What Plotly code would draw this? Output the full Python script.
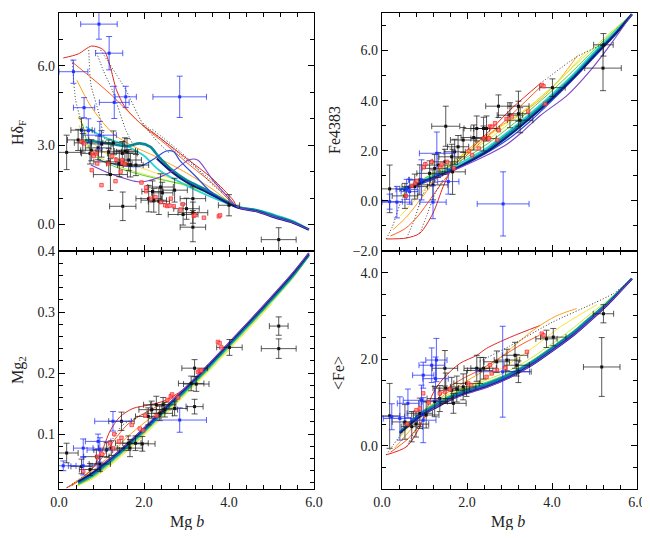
import plotly.graph_objects as go

# ---------------- model tracks (colour order: red ... purple) ----------------
# Panel 1: Hdelta_F vs Mg b
HD_TRACK_X = [
    [0.1, 0.45, 0.77, 1.05, 1.2, 1.35, 1.55, 1.9, 2.4, 3.0, 3.6, 4.1, 4.2, 4.64, 5.11, 5.5, 5.88],
    [0.3, 0.8, 1.2, 1.55, 2.0, 2.5, 3.0, 3.66, 4.2, 4.64, 5.11, 5.5, 5.88],
    [0.42, 0.7, 0.96, 1.3, 1.7, 2.3, 3.0, 3.6, 4.2, 4.64, 5.11, 5.5, 5.88],
    [0.45, 0.7, 1.0, 1.5, 2.1, 2.8, 3.5, 4.2, 4.64, 5.11, 5.5, 5.88],
    [0.48, 0.65, 0.9, 1.4, 2.0, 2.7, 3.4, 4.2, 4.64, 5.11, 5.5, 5.88],
    [0.55, 0.78, 1.33, 1.96, 2.66, 3.05, 3.6, 4.2, 4.64, 5.11, 5.5, 5.88],
    [0.63, 1.0, 1.56, 2.0, 2.35, 2.97, 3.5, 4.2, 4.64, 5.11, 5.5, 5.88],
    [0.61, 1.17, 1.59, 1.9, 2.15, 2.35, 2.66, 3.0, 3.48, 4.2, 4.64, 5.11, 5.5, 5.88],
    [0.9, 1.4, 1.9, 2.2, 2.53, 2.7, 2.84, 3.23, 3.62, 4.2, 4.64, 5.11, 5.5, 5.88],
    [2.3, 2.66, 3.0, 3.48, 4.2, 4.64, 5.11, 5.5, 5.88],
    [0.75, 1.2, 1.9, 2.3, 2.7, 3.08, 3.27, 3.62, 4.01, 4.2, 4.64, 5.11, 5.5, 5.88],
]
HD_TRACK_Y = [
    [6.3, 6.45, 6.75, 6.6, 6.0, 5.1, 4.45, 3.85, 3.25, 2.5, 1.75, 0.92, 0.66, 0.52, 0.28, 0.1, -0.19],
    [6.16, 5.5, 4.95, 4.4, 3.7, 3.05, 2.35, 1.49, 0.66, 0.52, 0.28, 0.1, -0.19],
    [5.46, 4.6, 4.0, 3.4, 3.0, 2.55, 1.95, 1.35, 0.66, 0.53, 0.29, 0.1, -0.19],
    [4.1, 3.3, 2.8, 2.4, 2.05, 1.65, 1.2, 0.66, 0.53, 0.3, 0.11, -0.19],
    [3.75, 3.0, 2.6, 2.2, 1.9, 1.6, 1.25, 0.66, 0.54, 0.31, 0.12, -0.19],
    [3.83, 2.69, 2.18, 1.87, 1.61, 1.49, 1.15, 0.66, 0.55, 0.33, 0.13, -0.19],
    [3.7, 3.35, 3.0, 2.6, 2.06, 1.5, 1.1, 0.66, 0.56, 0.35, 0.14, -0.19],
    [3.19, 3.07, 2.96, 3.07, 2.94, 2.56, 2.06, 1.68, 1.3, 0.66, 0.54, 0.3, 0.1, -0.19],
    [2.45, 2.25, 2.2, 2.45, 2.78, 2.75, 2.43, 1.8, 1.17, 0.66, 0.52, 0.27, 0.08, -0.19],
    [2.5, 1.98, 1.6, 1.22, 0.64, 0.5, 0.25, 0.07, -0.19],
    [2.25, 1.93, 1.61, 1.75, 2.05, 2.46, 2.43, 1.68, 0.98, 0.66, 0.5, 0.26, 0.08, -0.19],
]
HD_DOT_X = [
    [0.31, 0.39, 0.51, 0.6],
    [0.7, 0.75, 0.94, 1.02, 1.1],
    [0.86, 1.05, 1.25, 1.57, 1.75],
    [0.98, 1.57, 1.96, 2.35, 2.6],
    [1.98, 2.8, 3.78],
    [2.2, 3.0, 3.62, 3.85],
]
HD_DOT_Y = [
    [6.23, 4.72, 3.96, 3.5],
    [6.6, 5.3, 4.2, 3.58, 3.1],
    [6.6, 5.8, 5.1, 3.58, 3.0],
    [6.6, 5.1, 3.84, 3.08, 2.7],
    [3.83, 2.7, 1.42],
    [3.6, 2.55, 1.49, 1.2],
]

# Panel 2: Fe4383 vs Mg b
FE43_TRACK_X = [
    [0.1, 0.58, 0.89, 1.2, 1.44, 1.67, 2.15, 2.62, 3.09, 3.72],
    [0.2, 0.55, 0.85, 1.15, 1.45, 1.8, 2.3, 2.8, 3.3, 3.7],
    [0.26, 0.6, 0.9, 1.2, 1.67, 2.2, 2.8, 3.33, 3.72, 4.2, 4.6],
    [0.42, 0.7, 0.9, 1.3, 1.8, 2.4, 3.0, 3.6, 4.2, 4.82],
    [0.45, 1.0, 1.6, 2.0, 2.5, 3.0, 3.5, 4.0, 4.5, 5.0, 5.5, 5.88],
    [0.5, 1.0, 1.6, 2.0, 2.5, 3.0, 3.5, 4.0, 4.5, 5.0, 5.5, 5.88],
    [0.45, 1.0, 1.6, 2.0, 2.5, 3.0, 3.5, 4.0, 4.5, 5.0, 5.5, 5.88],
    [0.42, 1.0, 1.6, 2.0, 2.5, 3.0, 3.5, 4.0, 4.5, 5.0, 5.5, 5.88],
    [0.8, 1.4, 2.0, 2.5, 3.0, 3.5, 4.0, 4.5, 5.0, 5.5, 5.88],
    [0.5, 1.0, 1.6, 2.0, 2.5, 3.0, 3.5, 4.0, 4.5, 5.0, 5.5, 5.88],
    [1.0, 1.6, 2.0, 2.5, 2.93, 3.3, 3.72, 4.35, 4.9, 5.4, 5.88],
]
FE43_TRACK_Y = [
    [-1.52, -1.48, -1.29, -0.49, 0.57, 1.36, 2.16, 2.95, 3.75, 4.68],
    [-1.4, -1.1, -0.6, 0.1, 0.8, 1.5, 2.3, 3.05, 3.85, 4.5],
    [-1.15, -0.6, 0.05, 0.7, 1.5, 2.3, 3.0, 3.55, 4.05, 4.9, 5.8],
    [-0.62, -0.1, 0.3, 0.95, 1.7, 2.45, 3.2, 3.95, 4.85, 6.0],
    [0.2, 0.9, 1.5, 1.9, 2.45, 3.1, 3.8, 4.55, 5.35, 6.15, 6.9, 7.45],
    [0.4, 0.9, 1.4, 1.75, 2.3, 2.95, 3.65, 4.4, 5.2, 6.05, 6.85, 7.45],
    [0.45, 0.85, 1.3, 1.65, 2.15, 2.8, 3.5, 4.25, 5.05, 5.95, 6.78, 7.45],
    [0.44, 0.8, 1.2, 1.55, 2.05, 2.7, 3.4, 4.15, 4.95, 5.85, 6.7, 7.45],
    [0.6, 1.0, 1.5, 1.95, 2.5, 3.2, 4.0, 4.85, 5.75, 6.65, 7.45],
    [0.42, 0.78, 1.18, 1.52, 2.0, 2.62, 3.32, 4.08, 4.9, 5.8, 6.68, 7.45],
    [0.75, 1.15, 1.45, 1.85, 2.25, 2.75, 3.4, 4.2, 5.2, 6.3, 7.45],
]
FE43_DOT_X = [
    [0.1, 0.25, 0.46, 0.6],
    [0.58, 0.75, 0.95, 1.1],
    [0.89, 1.05, 1.25, 1.45],
    [3.72, 4.58, 5.29, 5.6, 5.88],
]
FE43_DOT_Y = [
    [-1.52, -1.0, 0.04, 0.4],
    [-1.48, -0.8, 0.2, 0.7],
    [-1.29, -0.6, 0.3, 0.9],
    [4.68, 5.75, 6.35, 6.81, 7.45],
]

# Panel 3: Mg2 vs Mg b
MG2_TRACK_X = [
    [0.18, 0.5, 0.8, 1.0, 1.2, 1.43, 1.74, 2.14, 2.5, 2.9, 3.3, 3.7],
    [0.3, 0.7, 1.0, 1.3, 1.6, 1.9, 2.3, 2.7, 3.2, 3.7],
    [0.3, 0.7, 1.2, 1.6, 2.0, 2.5, 3.0, 3.5, 4.0, 4.6],
    [0.4, 0.8, 1.2, 1.6, 2.0, 2.5, 3.0, 3.5, 4.0, 4.5, 5.0],
    [0.42, 0.8, 1.2, 1.6, 2.0, 2.5, 3.0, 3.5, 4.0, 4.5, 5.0, 5.5, 5.88],
    [0.45, 0.8, 1.2, 1.6, 2.0, 2.5, 3.0, 3.5, 4.0, 4.5, 5.0, 5.5, 5.88],
    [0.45, 0.8, 1.2, 1.6, 2.0, 2.5, 3.0, 3.5, 4.0, 4.5, 5.0, 5.5, 5.88],
    [0.45, 0.8, 1.2, 1.6, 2.0, 2.5, 3.0, 3.5, 4.0, 4.5, 5.0, 5.5, 5.88],
    [0.5, 0.8, 1.2, 1.6, 2.0, 2.5, 3.0, 3.5, 4.0, 4.5, 5.0, 5.5, 5.88],
    [0.45, 0.8, 1.2, 1.6, 2.0, 2.5, 3.0, 3.5, 4.0, 4.5, 5.0, 5.5, 5.88],
    [0.9, 1.2, 1.6, 2.0, 2.5, 3.0, 3.5, 4.0, 4.5, 5.0, 5.5, 5.88],
]
MG2_TRACK_Y = [
    [0.012, 0.025, 0.045, 0.07, 0.105, 0.128, 0.142, 0.148, 0.155, 0.172, 0.198, 0.226],
    [0.015, 0.038, 0.06, 0.09, 0.115, 0.13, 0.145, 0.16, 0.19, 0.226],
    [0.018, 0.035, 0.065, 0.095, 0.118, 0.145, 0.176, 0.21, 0.245, 0.29],
    [0.014, 0.027, 0.048, 0.072, 0.098, 0.132, 0.166, 0.201, 0.238, 0.275, 0.313],
    [0.016, 0.029, 0.05, 0.074, 0.1, 0.134, 0.168, 0.203, 0.24, 0.277, 0.315, 0.355, 0.391],
    [0.017, 0.03, 0.052, 0.076, 0.102, 0.136, 0.17, 0.205, 0.242, 0.279, 0.317, 0.357, 0.392],
    [0.019, 0.032, 0.054, 0.078, 0.104, 0.138, 0.172, 0.207, 0.244, 0.281, 0.319, 0.358, 0.393],
    [0.02, 0.034, 0.056, 0.08, 0.106, 0.14, 0.174, 0.209, 0.246, 0.283, 0.321, 0.36, 0.394],
    [0.024, 0.036, 0.058, 0.082, 0.108, 0.142, 0.176, 0.211, 0.248, 0.285, 0.323, 0.362, 0.395],
    [0.022, 0.037, 0.059, 0.083, 0.109, 0.143, 0.177, 0.212, 0.249, 0.286, 0.324, 0.363, 0.396],
    [0.045, 0.06, 0.084, 0.11, 0.144, 0.178, 0.213, 0.25, 0.287, 0.325, 0.364, 0.397],
]
MG2_DOT_X = [
    [0.9, 1.2, 1.5, 1.9, 2.3],
    [0.18, 0.35, 0.55],
    [3.7, 4.3, 5.0, 5.88],
]
MG2_DOT_Y = [
    [0.05, 0.085, 0.115, 0.13, 0.142],
    [0.012, 0.02, 0.03],
    [0.226, 0.27, 0.322, 0.395],
]

# Panel 4: <Fe> vs Mg b
FE_TRACK_X = [
    [0.1, 0.58, 0.89, 1.2, 1.44, 1.83, 2.23, 2.46, 3.0, 3.72],
    [0.2, 0.6, 0.9, 1.2, 1.5, 1.9, 2.3, 2.8, 3.3, 3.7],
    [0.3, 0.7, 1.1, 1.5, 2.0, 2.5, 3.05, 3.6, 4.1, 4.58],
    [0.38, 0.8, 1.3, 1.8, 2.4, 3.0, 3.6, 4.2, 5.06],
    [0.4, 0.89, 1.3, 1.67, 2.0, 2.46, 3.0, 3.5, 4.03, 4.5, 4.82, 5.3, 5.88],
    [0.42, 0.89, 1.3, 1.67, 2.0, 2.46, 3.0, 3.5, 4.03, 4.5, 4.82, 5.3, 5.88],
    [0.42, 0.89, 1.3, 1.67, 2.0, 2.46, 3.0, 3.5, 4.03, 4.5, 4.82, 5.3, 5.88],
    [0.42, 0.89, 1.3, 1.67, 2.0, 2.46, 3.0, 3.5, 4.03, 4.5, 4.82, 5.3, 5.88],
    [0.5, 0.89, 1.3, 1.67, 2.0, 2.46, 3.0, 3.5, 4.03, 4.5, 4.82, 5.3, 5.88],
    [0.42, 0.89, 1.3, 1.67, 2.0, 2.46, 3.0, 3.5, 4.03, 4.5, 4.82, 5.3, 5.88],
    [1.0, 1.5, 2.0, 2.5, 3.0, 3.5, 4.0, 4.5, 5.0, 5.5, 5.88],
]
FE_TRACK_Y = [
    [-0.21, -0.02, 0.44, 1.21, 1.55, 1.9, 2.09, 2.25, 2.5, 2.78],
    [-0.15, 0.15, 0.5, 0.95, 1.3, 1.55, 1.75, 2.05, 2.35, 2.55],
    [-0.05, 0.4, 0.85, 1.2, 1.5, 1.8, 2.26, 2.7, 3.0, 3.17],
    [0.15, 0.6, 0.98, 1.27, 1.55, 1.9, 2.3, 2.75, 3.26],
    [0.22, 0.75, 1.04, 1.24, 1.37, 1.52, 1.74, 2.02, 2.38, 2.72, 2.98, 3.35, 3.86],
    [0.28, 0.76, 1.01, 1.2, 1.33, 1.47, 1.68, 1.95, 2.31, 2.65, 2.92, 3.32, 3.86],
    [0.3, 0.74, 0.98, 1.17, 1.3, 1.44, 1.66, 1.93, 2.29, 2.63, 2.9, 3.3, 3.86],
    [0.31, 0.72, 0.96, 1.15, 1.28, 1.42, 1.64, 1.91, 2.27, 2.61, 2.88, 3.29, 3.86],
    [0.36, 0.7, 0.93, 1.12, 1.25, 1.39, 1.61, 1.88, 2.24, 2.58, 2.85, 3.27, 3.86],
    [0.29, 0.67, 0.9, 1.09, 1.22, 1.36, 1.58, 1.85, 2.21, 2.55, 2.82, 3.25, 3.86],
    [0.72, 1.02, 1.2, 1.36, 1.57, 1.85, 2.19, 2.55, 2.98, 3.45, 3.86],
]
FE_DOT_X = [
    [0.1, 0.4, 0.7],
    [0.58, 0.9, 1.2],
    [2.3, 3.0, 4.0, 5.0, 5.45, 5.88],
]
FE_DOT_Y = [
    [-0.21, 0.2, 0.55],
    [-0.02, 0.55, 0.9],
    [1.95, 2.3, 2.85, 3.3, 3.52, 3.86],
]

# ---------------- observations ----------------
HD_BLK_X = [0.18, 0.45, 0.53, 0.56, 0.73, 0.76, 0.92, 1.0, 1.17, 1.17, 1.21, 1.28, 1.42, 1.49, 1.55, 1.6, 1.64, 1.68, 1.81,
            1.5, 2.11, 2.2, 2.23, 2.35, 2.39, 2.43, 2.72, 2.92, 3.0, 3.15, 3.15, 3.15, 4.0, 5.17]
HD_BLK_Y = [2.73, 3.2, 3.57, 3.09, 2.69, 2.81, 2.9, 3.05, 2.75, 2.37, 1.89, 3.09, 2.31, 2.69, 2.78, 2.75, 2.44, 2.25, 2.25,
            0.69, 0.98, 1.25, 0.92, 0.88, 1.42, 1.2, 1.3, 0.38, 0.6, 0.98, 0.45, -0.1, 0.73, -0.57]
HD_BLK_XE = [0.33, 0.25, 0.25, 0.2, 0.2, 0.25, 0.3, 0.25, 0.3, 0.35, 0.4, 0.25, 0.3, 0.35, 0.25, 0.25, 0.3, 0.3, 0.3,
             0.31, 0.3, 0.25, 0.3, 0.25, 0.3, 0.25, 0.3, 0.35, 0.3, 0.3, 0.35, 0.3, 0.25, 0.41]
HD_BLK_YE = [0.65, 0.4, 0.45, 0.35, 0.4, 0.4, 0.45, 0.5, 0.45, 0.5, 0.6, 0.45, 0.5, 0.45, 0.5, 0.5, 0.4, 0.45, 0.4,
             0.54, 0.5, 0.4, 0.45, 0.5, 0.5, 0.4, 0.45, 0.4, 0.4, 0.45, 0.4, 0.55, 0.4, 0.45]
HD_BLU_X = [0.94, 1.18, 0.34, 0.59, 1.3, 1.57, 2.84, 0.96, 0.69]
HD_BLU_Y = [7.58, 6.48, 5.78, 4.42, 4.62, 4.83, 4.83, 3.38, 3.55]
HD_BLU_XE = [0.43, 0.32, 0.34, 0.25, 0.35, 0.25, 0.63, 0.39, 0.15]
HD_BLU_YE = [0.57, 0.63, 0.44, 0.38, 0.61, 0.4, 0.78, 0.52, 0.45]
HD_RED_X = [0.53, 0.59, 0.78, 0.82, 0.88, 0.9, 0.77, 1.0, 1.16, 1.25, 1.35, 1.49, 1.49, 1.55, 1.33, 1.45, 2.05, 2.05,
            2.27, 2.4, 2.5, 2.55, 2.6, 2.63, 2.7, 2.86, 2.91, 3.17, 3.2, 3.41, 3.76, 3.79, 1.94, 2.16]
HD_RED_Y = [3.13, 3.07, 2.69, 2.59, 2.69, 2.31, 2.06, 1.49, 2.31, 2.59, 2.45, 2.44, 2.33, 2.28, 1.64, 2.0, 1.4, 1.26,
            1.04, 0.85, 0.73, 0.7, 0.72, 0.98, 0.69, 0.57, 0.77, 0.33, 0.36, 0.26, 0.31, 0.35, 1.59, 0.98]

FE43_BLK_X = [0.18, 0.54, 0.77, 0.89, 1.12, 1.2, 1.24, 1.32, 1.48, 1.5, 1.64, 1.66, 1.71, 1.79, 1.91, 2.16, 2.23, 2.39,
              2.39, 2.46, 2.74, 3.01, 3.21, 3.21, 3.25, 4.01, 5.21, 5.2]
FE43_BLK_Y = [0.48, 0.2, 0.57, 0.84, 1.1, 0.64, 1.3, 1.43, 1.56, 2.98, 1.76, 1.16, 1.96, 2.16, 2.43, 2.53, 2.89, 2.89,
              2.49, 2.89, 3.78, 3.42, 3.78, 3.48, 3.22, 4.52, 6.23, 5.3]
FE43_BLK_XE = [0.24, 0.3, 0.3, 0.25, 0.3, 0.35, 0.3, 0.3, 0.3, 0.33, 0.3, 0.3, 0.25, 0.25, 0.3, 0.3, 0.3, 0.3,
               0.3, 0.3, 0.3, 0.3, 0.25, 0.25, 0.3, 0.3, 0.23, 0.43]
FE43_BLK_YE = [0.95, 0.5, 0.5, 0.6, 0.5, 0.6, 0.55, 0.5, 0.5, 0.8, 0.5, 0.9, 0.5, 0.45, 0.5, 0.5, 0.5, 0.45,
               0.5, 0.5, 0.45, 0.5, 0.6, 0.5, 0.5, 0.35, 0.45, 0.9]
FE43_BLU_X = [2.85, 0.18, 0.35, 0.58, 0.65, 0.93, 1.29, 1.2, 1.56]
FE43_BLU_Y = [-0.12, -0.03, -0.05, 0.46, 0.37, 0.84, 1.9, -0.05, 0.77]
FE43_BLU_XE = [0.61, 0.3, 0.35, 0.25, 0.2, 0.3, 0.41, 0.31, 0.25]
FE43_BLU_YE = [1.28, 0.3, 0.63, 0.4, 0.5, 0.8, 0.85, 0.66, 0.5]
FE43_RED_X = [0.56, 0.78, 0.82, 0.98, 1.02, 1.17, 1.37, 1.53, 1.69, 2.04, 2.12, 2.28, 2.39, 2.5, 2.52, 2.54, 2.59,
              2.66, 2.71, 2.75, 2.93, 3.05, 3.44, 3.76, 3.8, 3.84, 1.4, 0.7]
FE43_RED_Y = [0.2, 0.7, 0.8, 1.34, 1.47, 1.56, 1.36, 1.56, 1.3, 1.99, 1.83, 2.09, 2.49, 2.5, 2.49, 2.97, 2.96,
              3.1, 2.43, 2.82, 3.27, 3.37, 3.57, 4.63, 4.58, 3.87, 1.45, 0.6]

MG2_BLK_X = [0.18, 0.53, 0.73, 0.88, 0.96, 1.12, 1.23, 1.47, 1.63, 1.67, 1.8, 1.96, 2.1, 2.18, 2.29, 2.37, 2.45, 2.49,
             2.72, 3.19, 3.11, 3.23, 3.19, 4.01, 5.17, 5.17]
MG2_BLK_Y = [0.069, 0.047, 0.042, 0.063, 0.051, 0.074, 0.077, 0.121, 0.085, 0.077, 0.085, 0.084, 0.129, 0.14, 0.148,
             0.134, 0.148, 0.14, 0.142, 0.208, 0.183, 0.182, 0.145, 0.242, 0.277, 0.24]
MG2_BLK_XE = [0.27, 0.25, 0.25, 0.3, 0.25, 0.3, 0.3, 0.3, 0.3, 0.3, 0.3, 0.3, 0.3, 0.3, 0.3, 0.3, 0.3, 0.3,
              0.3, 0.3, 0.3, 0.3, 0.2, 0.3, 0.22, 0.41]
MG2_BLK_YE = [0.016, 0.012, 0.01, 0.012, 0.012, 0.012, 0.012, 0.015, 0.012, 0.014, 0.012, 0.012, 0.014, 0.014, 0.014,
              0.012, 0.012, 0.012, 0.012, 0.014, 0.012, 0.012, 0.012, 0.013, 0.015, 0.016]
MG2_BLU_X = [2.84, 1.27, 0.57, 0.1, 0.57, 0.92, 0.96]
MG2_BLU_Y = [0.123, 0.121, 0.077, 0.048, 0.048, 0.088, 0.074]
MG2_BLU_XE = [0.63, 0.43, 0.23, 0.3, 0.35, 0.3, 0.3]
MG2_BLU_YE = [0.02, 0.016, 0.015, 0.008, 0.015, 0.012, 0.02]
MG2_RED_X = [0.57, 0.9, 1.0, 1.27, 1.41, 1.47, 1.71, 1.9, 1.98, 2.03, 2.3, 2.55, 2.63, 2.66, 2.8, 3.27, 3.31, 3.35,
             3.74, 3.78, 3.82, 1.3, 1.2]
MG2_RED_Y = [0.039, 0.063, 0.068, 0.077, 0.088, 0.094, 0.115, 0.109, 0.106, 0.13, 0.13, 0.156, 0.162, 0.165, 0.16,
             0.202, 0.204, 0.204, 0.251, 0.249, 0.242, 0.1, 0.085]

FE_BLK_X = [0.18, 0.54, 0.7, 0.8, 0.89, 1.04, 1.24, 1.36, 1.48, 1.5, 1.64, 1.68, 1.76, 1.91, 1.99, 2.23, 2.31, 2.39,
            2.7, 2.94, 3.13, 3.17, 3.21, 3.87, 4.03, 5.21, 5.17]
FE_BLK_Y = [0.69, 0.55, 0.44, 0.5, 0.75, 0.71, 1.02, 1.09, 1.79, 1.33, 1.28, 0.98, 1.31, 1.36, 1.44, 1.79, 1.74, 1.79,
            1.94, 1.98, 2.09, 1.86, 1.71, 2.47, 2.51, 3.05, 1.82]
FE_BLK_XE = [0.24, 0.3, 0.25, 0.3, 0.3, 0.3, 0.3, 0.3, 0.3, 0.3, 0.3, 0.3, 0.3, 0.3, 0.3, 0.3, 0.3, 0.3,
             0.3, 0.3, 0.3, 0.3, 0.3, 0.25, 0.3, 0.24, 0.43]
FE_BLK_YE = [0.75, 0.4, 0.35, 0.3, 0.35, 0.3, 0.35, 0.3, 0.41, 0.35, 0.3, 0.23, 0.3, 0.3, 0.3, 0.3, 0.3, 0.25,
             0.25, 0.25, 0.3, 0.25, 0.25, 0.2, 0.2, 0.21, 0.68]
FE_BLU_X = [2.84, 0.23, 0.42, 0.61, 0.93, 0.97, 0.97, 1.17, 1.28, 1.26]
FE_BLU_Y = [1.71, 0.67, 0.63, 0.98, 1.05, 1.63, 0.59, 1.86, 1.98, 1.55]
FE_BLU_XE = [0.63, 0.3, 0.39, 0.25, 0.43, 0.25, 0.3, 0.3, 0.25, 0.3]
FE_BLU_YE = [1.05, 0.3, 0.5, 0.33, 0.35, 0.3, 0.52, 0.4, 0.5, 0.5]
FE_RED_X = [0.81, 0.89, 0.97, 1.1, 1.36, 1.48, 1.6, 2.03, 2.1, 2.46, 2.54, 2.58, 2.7, 2.9, 3.41, 3.76, 3.8, 0.6]
FE_RED_Y = [0.82, 0.86, 1.21, 1.0, 1.21, 1.25, 1.3, 1.44, 1.4, 1.59, 1.86, 1.67, 1.75, 1.8, 2.17, 2.59, 2.55, 0.5]

# ---------------- styles ----------------
TRACK_COLORS = ["#e3261f", "#ff5a1f", "#ffa31a", "#ffe23a", "#c8ee3c", "#5ccf2c",
                "#2ad4d4", "#0a8898", "#2b4fd8", "#0a1f86", "#7a46c8"]
TRACK_WIDTHS = [1.0, 1.0, 1.0, 1.0, 1.0, 1.0, 1.8, 2.6, 1.2, 2.0, 1.1]

PANELS = [
    ("x", "y", HD_TRACK_X, HD_TRACK_Y, HD_DOT_X, HD_DOT_Y,
     (HD_BLK_X, HD_BLK_Y, HD_BLK_XE, HD_BLK_YE), (HD_BLU_X, HD_BLU_Y, HD_BLU_XE, HD_BLU_YE), (HD_RED_X, HD_RED_Y)),
    ("x2", "y2", FE43_TRACK_X, FE43_TRACK_Y, FE43_DOT_X, FE43_DOT_Y,
     (FE43_BLK_X, FE43_BLK_Y, FE43_BLK_XE, FE43_BLK_YE), (FE43_BLU_X, FE43_BLU_Y, FE43_BLU_XE, FE43_BLU_YE),
     (FE43_RED_X, FE43_RED_Y)),
    ("x3", "y3", MG2_TRACK_X, MG2_TRACK_Y, MG2_DOT_X, MG2_DOT_Y,
     (MG2_BLK_X, MG2_BLK_Y, MG2_BLK_XE, MG2_BLK_YE), (MG2_BLU_X, MG2_BLU_Y, MG2_BLU_XE, MG2_BLU_YE),
     (MG2_RED_X, MG2_RED_Y)),
    ("x4", "y4", FE_TRACK_X, FE_TRACK_Y, FE_DOT_X, FE_DOT_Y,
     (FE_BLK_X, FE_BLK_Y, FE_BLK_XE, FE_BLK_YE), (FE_BLU_X, FE_BLU_Y, FE_BLU_XE, FE_BLU_YE), (FE_RED_X, FE_RED_Y)),
]

fig = go.Figure()
for xa, ya, tx, ty, dx, dy, blk, blu, red in PANELS:
    for i in range(len(tx)):
        fig.add_trace(go.Scatter(x=tx[i], y=ty[i], mode="lines", xaxis=xa, yaxis=ya,
                                 line=dict(color=TRACK_COLORS[i], width=TRACK_WIDTHS[i], shape="spline", smoothing=0.8),
                                 hoverinfo="skip", showlegend=False))
    for i in range(len(dx)):
        fig.add_trace(go.Scatter(x=dx[i], y=dy[i], mode="lines", xaxis=xa, yaxis=ya,
                                 line=dict(color="#333333", width=1, dash="1px,2px", shape="spline", smoothing=0.6),
                                 hoverinfo="skip", showlegend=False))
    for (px, py, pxe, pye), col, ecol in [(blk, "#111111", "rgba(25,25,25,0.72)"),
                                          (blu, "#2233ff", "rgba(35,45,255,0.75)")]:
        fig.add_trace(go.Scatter(x=px, y=py, mode="markers", xaxis=xa, yaxis=ya,
                                 marker=dict(symbol="square", size=3, color=col),
                                 error_x=dict(type="data", array=pxe, visible=True, color=ecol, thickness=1, width=3),
                                 error_y=dict(type="data", array=pye, visible=True, color=ecol, thickness=1, width=3),
                                 hoverinfo="skip", showlegend=False))
    fig.add_trace(go.Scatter(x=red[0], y=red[1], mode="markers", xaxis=xa, yaxis=ya,
                             marker=dict(symbol="square", size=3.5, color="rgba(255,120,120,0.7)",
                                         line=dict(color="rgba(255,20,20,0.9)", width=0.7)),
                             hoverinfo="skip", showlegend=False))

# The page body adds an 8 px margin on every side; size the figure so the page
# fits the window exactly (no scrollbars) and shift target pixels by 8 px.
OFF = 8
W, H = 650 - OFF, 538 - 2 * OFF


def fx(p):
    return (p - OFF) / W


def fy(p):
    return 1 - (p - OFF) / H


XL = [fx(59), fx(314)]
XR = [fx(382), fx(637)]
YT = [fy(251), fy(13)]
YB = [fy(489), fy(251)]

tickfont = dict(family="Liberation Serif, Times New Roman, serif", size=14, color="#222222")


def ax(domain, rng, dtick, minor, anchor, labels=True, fmt=".1f"):
    return dict(domain=domain, range=rng, anchor=anchor, showline=True, linecolor="black", linewidth=1.3,
                mirror="allticks", ticks="inside", ticklen=6, tickwidth=1.2, tickcolor="black",
                tick0=0, dtick=dtick, tickformat=fmt, showticklabels=labels, showgrid=False, zeroline=False,
                tickfont=tickfont, automargin=False,
                minor=dict(ticks="inside", ticklen=3.5, tickwidth=1, tickcolor="black", dtick=minor, tick0=0,
                           showgrid=False))


fig.update_layout(
    width=W, height=H, margin=dict(l=0, r=0, t=0, b=0, pad=0, autoexpand=False),
    paper_bgcolor="white", plot_bgcolor="white", showlegend=False,
    xaxis=ax(XL, [0, 6], 2, 0.4, "y", labels=False),
    yaxis=ax(YT, [-1, 8], 3, 1, "x"),
    xaxis2=ax(XR, [0, 6], 2, 0.4, "y2", labels=False),
    yaxis2=ax(YT, [-2, 7.5], 2, 1, "x2"),
    xaxis3=ax(XL, [0, 6], 2, 0.4, "y3"),
    yaxis3=ax(YB, [0.01, 0.4], 0.1, 0.02, "x3"),
    xaxis4=ax(XR, [0, 6], 2, 0.4, "y4"),
    yaxis4=ax(YB, [-1, 4.5], 2, 0.5, "x4"),
)

titlefont = dict(family="Liberation Serif, Times New Roman, serif", size=16, color="#222222")
ANN = [
    ("Hδ<sub>F</sub>", 18, 133, -90),
    ("Mg<sub>2</sub>", 18, 370, -90),
    ("Fe4383", 335, 130, -90),
    ("&lt;Fe&gt;", 338, 373, -90),
    ("Mg <i>b</i>", 187, 522, 0),
    ("Mg <i>b</i>", 508, 522, 0),
]
for txt, px, py, ang in ANN:
    fig.add_annotation(text=txt, x=fx(px), y=fy(py), xref="paper", yref="paper", showarrow=False,
                       textangle=ang, font=titlefont, xanchor="center", yanchor="middle")

fig.write_html("out.html")
